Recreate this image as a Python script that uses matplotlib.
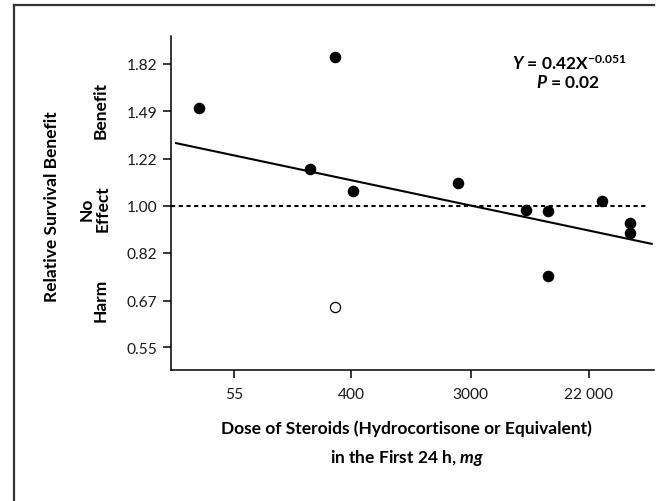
import numpy as np
import matplotlib.pyplot as plt
from matplotlib.lines import Line2D

# studies: dose (mg, first 24 h) and relative survival benefit
dose = [30.6, 302, 199, 411, 2430, 7640, 10960, 10960, 27250, 43700, 43700]
benefit = [1.51, 1.87, 1.17, 1.066, 1.103, 0.984, 0.980, 0.745, 1.022, 0.929, 0.893]
open_dose = [302]
open_benefit = [0.652]

# fitted power line Y = a * X^b over the drawn dose range
fit_a = 1.53
fit_b = -0.053
fit_range = [20.8, 63400]

xticks = [55, 400, 3000, 22000]
xticklabels = ['55', '400', '3000', '22 000']
yticks = [0.55, 0.67, 0.82, 1.00, 1.22, 1.49, 1.82]
yticklabels = ['%.2f' % v for v in yticks]

plt.rcParams['font.family'] = ['Lato', 'DejaVu Sans']
plt.rcParams['mathtext.fontset'] = 'custom'
plt.rcParams['mathtext.rm'] = 'Lato:bold'
plt.rcParams['mathtext.it'] = 'Lato:italic:bold'
plt.rcParams['mathtext.bf'] = 'Lato:bold'

W, H = 658, 502
fs = 12.5
fig = plt.figure(figsize=(W / 100, H / 100), dpi=100)
ax = fig.add_axes([171 / W, 1 - 371 / H, 483 / W, 334.3 / H])

ax.set_xscale('log')
ax.set_yscale('log')
ax.set_xlim(19.1, 65900)
ax.set_ylim(0.5, 2.05)
ax.set_xticks(xticks)
ax.set_xticklabels(xticklabels)
ax.set_yticks(yticks)
ax.set_yticklabels(yticklabels)
ax.minorticks_off()

for s in ['top', 'right']:
    ax.spines[s].set_visible(False)
for s in ['left', 'bottom']:
    ax.spines[s].set_linewidth(1.1)
ax.tick_params(direction='out', length=6, width=1.1, labelsize=11.2,
               labelcolor='#1a1a1a')
ax.tick_params(axis='x', pad=6)
ax.tick_params(axis='y', pad=4)

# reference line (no effect) and fit
ax.axhline(1.0, xmax=0.985, color='black', lw=1.5, ls=(0, (2, 1.7)))
xs = np.array(fit_range)
ax.plot(xs, fit_a * xs ** fit_b, color='black', lw=1.5)

ax.plot(dose, benefit, 'o', color='black', ms=7.3, zorder=3)
ax.plot(open_dose, open_benefit, 'o', mfc='white', mec='black', mew=0.9, ms=7.3, zorder=3)

# labels
fig.text(406.7 / W, 1 - 434 / H, 'Dose of Steroids (Hydrocortisone or Equivalent)',
         ha='center', va='baseline', fontsize=fs, fontweight='bold')
fig.text(406.7 / W, 1 - 462.7 / H, 'in the First 24 h, $mg$',
         ha='center', va='baseline', fontsize=fs, fontweight='bold')

fig.text(52.5 / W, 1 - 206.5 / H, 'Relative Survival Benefit', rotation=90,
         ha='center', va='center', fontsize=fs, fontweight='bold')
fig.text(100.5 / W, 1 - 110 / H, 'Benefit', rotation=90,
         ha='center', va='center', fontsize=fs, fontweight='bold')
fig.text(94.5 / W, 1 - 209 / H, 'No\nEffect', rotation=90, ha='center', va='center',
         multialignment='center', linespacing=0.95, fontsize=fs, fontweight='bold')
fig.text(100.5 / W, 1 - 300 / H, 'Harm', rotation=90,
         ha='center', va='center', fontsize=fs, fontweight='bold')

fig.text(569.3 / W, 1 - 69.5 / H, '$Y$ = 0.42X$^{-0.051}$',
         ha='center', va='baseline', fontsize=fs, fontweight='bold')
fig.text(568.5 / W, 1 - 88 / H, '$P$ = 0.02',
         ha='center', va='baseline', fontsize=fs, fontweight='bold')

# partial frame round the figure
fig.add_artist(Line2D([14 / W, 14 / W], [0, 1 - 5.7 / H], transform=fig.transFigure,
                      color='#333333', lw=1.6))
fig.add_artist(Line2D([14 / W, 654 / W], [1 - 5.7 / H, 1 - 5.7 / H], transform=fig.transFigure,
                      color='#333333', lw=1.6))

fig.savefig('out.png', dpi=100)
